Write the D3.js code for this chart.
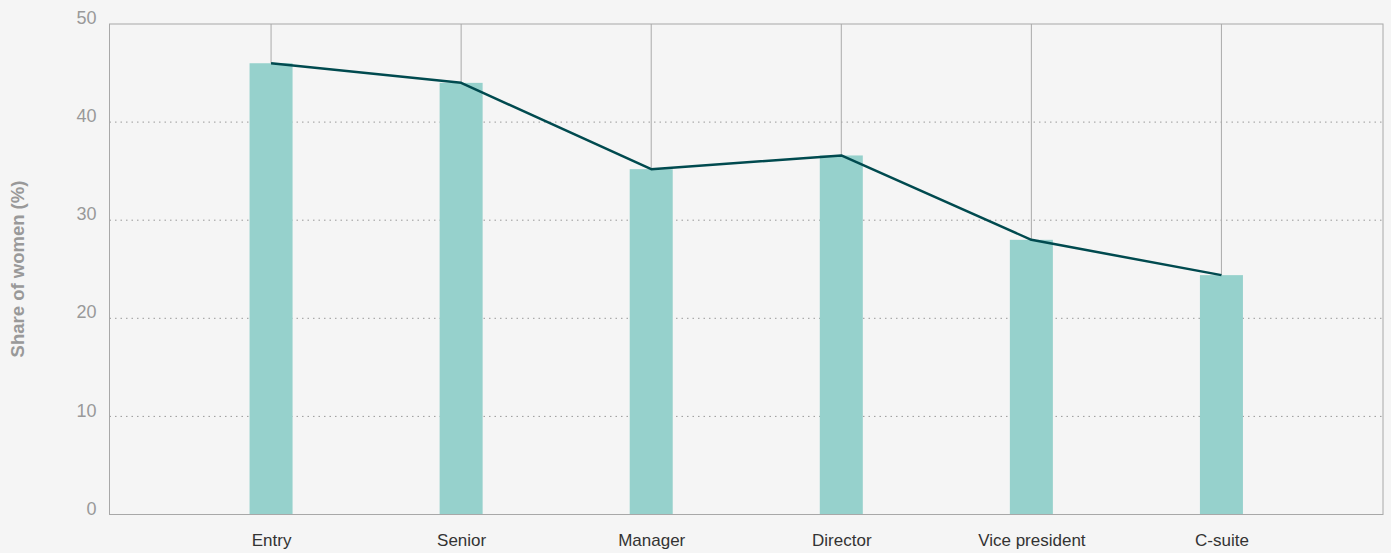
<!DOCTYPE html>
<html>
<head>
<meta charset="utf-8">
<script src="https://cdn.jsdelivr.net/npm/d3@7"></script>
<style>
  html, body { margin: 0; padding: 0; background: #f5f5f5; }
  svg { display: block; font-family: "Liberation Sans", Arial, sans-serif; }
</style>
</head>
<body>
<svg id="chart" width="1391" height="553"></svg>
<script>
'use strict';

// chart data
var levels = ['Entry', 'Senior', 'Manager', 'Director', 'Vice president', 'C-suite'];
var shareWomen = [46, 44, 35.2, 36.6, 28, 24.4];
var yTicks = [0, 10, 20, 30, 40, 50];

var width = 1391,
    height = 553,
    margin = {top: 24, right: 8, bottom: 38.5, left: 109.5};

var svg = d3.select('#chart');

var x = d3.scalePoint()
    .domain(levels)
    .range([margin.left, width - margin.right])
    .padding(0.85);

var y = d3.scaleLinear()
    .domain([0, 50])
    .range([height - margin.bottom, margin.top]);

var barWidth = 43;

// dotted gridlines
svg.append('g')
    .selectAll('line')
        .data(yTicks.filter(function(d) { return d > 0 && d < 50; }))
    .enter().append('line')
    .attr('x1', margin.left)
    .attr('x2', width - margin.right)
    .attr('y1', function(d) { return y(d); })
    .attr('y2', function(d) { return y(d); })
    .attr('stroke', '#999')
    .attr('stroke-width', 1)
    .attr('stroke-dasharray', '1.5,4');

// bars
svg.append('g')
    .selectAll('rect')
        .data(shareWomen)
    .enter().append('rect')
    .attr('x', function(d, i) { return x(levels[i]) - barWidth / 2; })
    .attr('y', function(d) { return y(d); })
    .attr('width', barWidth)
    .attr('height', function(d) { return y(0) - y(d); })
    .attr('fill', '#96d1cc');

// drop lines from the top border down to each point
svg.append('g')
    .selectAll('line')
        .data(shareWomen)
    .enter().append('line')
    .attr('x1', function(d, i) { return x(levels[i]); })
    .attr('x2', function(d, i) { return x(levels[i]); })
    .attr('y1', y(50))
    .attr('y2', function(d) { return y(d); })
    .attr('stroke', '#aaa')
    .attr('stroke-width', 1);

// frame
svg.append('rect')
    .attr('x', margin.left)
    .attr('y', y(50))
    .attr('width', width - margin.right - margin.left)
    .attr('height', y(0) - y(50))
    .attr('fill', 'none')
    .attr('stroke', '#a8a8a8')
    .attr('stroke-width', 1);

// line
var line = d3.line()
    .x(function(d, i) { return x(levels[i]); })
    .y(function(d) { return y(d); });

svg.append('path')
    .datum(shareWomen)
    .attr('d', line)
    .attr('fill', 'none')
    .attr('stroke', '#004a4f')
    .attr('stroke-width', 2.5)
    .attr('stroke-linejoin', 'round');

// y axis labels
var yAxis = d3.axisLeft(y)
    .tickValues(yTicks)
    .tickSize(0)
    .tickPadding(13);

var yg = svg.append('g')
    .attr('transform', 'translate(' + margin.left + ',0)')
    .call(yAxis);
yg.select('.domain').remove();
yg.selectAll('text')
    .attr('dy', '-0.02em')
    .attr('fill', '#999')
    .style('font-size', '18px');

// x axis labels
var xAxis = d3.axisBottom(x)
    .tickSize(0)
    .tickPadding(19);

var xg = svg.append('g')
    .attr('transform', 'translate(0,' + y(0) + ')')
    .call(xAxis);
xg.select('.domain').remove();
xg.selectAll('text')
    .attr('fill', '#333')
    .style('font-size', '17px');

// axis title
svg.append('text')
    .attr('transform', 'translate(24,269) rotate(-90)')
    .attr('text-anchor', 'middle')
    .attr('fill', '#999')
    .style('font-size', '18.5px')
    .style('font-weight', 'bold')
    .text('Share of women (%)');
</script>
</body>
</html>
